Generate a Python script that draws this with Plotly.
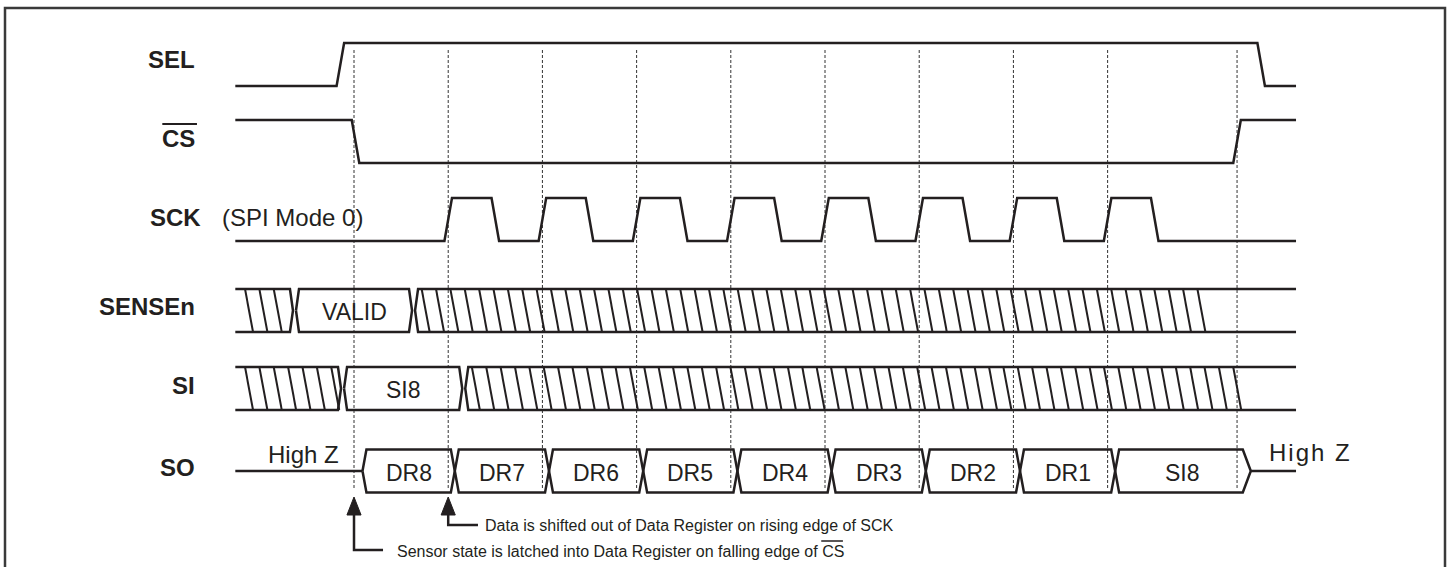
import plotly.graph_objects as go

# ---------------- data (time in SCK periods, t = 0 at the CS falling edge) ----------------
SIGNALS = ["SEL", "CS", "SCK", "SENSEn", "SI", "SO"]
T_START, T_END = -1.26, 10.0
SEL_EDGES = [-0.145, 9.63]          # rise, fall
CS_EDGES = [0.016, 9.374]           # fall, rise
SCK_RISING = [1, 2, 3, 4, 5, 6, 7, 8]
SCK_HIGH_TIME = 0.5
GUIDE_TIMES = [0, 1, 2, 3, 4, 5, 6, 7, 8, 9.374]
SENSEN_VALID = [-0.632, 0.632]
SENSEN_HATCH_END = 9.055
SENSEN_LABEL = "VALID"
SI_VALID = [-0.122, 1.165]
SI_HATCH_END = 9.51
SI_LABEL = "SI8"
SO_BOUNDS = [0.09, 1.07, 2.07, 3.07, 4.07, 5.07, 6.07, 7.07, 8.08, 9.52]
SO_LABELS = ["DR8", "DR7", "DR6", "DR5", "DR4", "DR3", "DR2", "DR1", "SI8"]
HIGHZ_TEXT = "High Z"
SCK_NOTE = "(SPI Mode 0)"
NOTE_LATCH = "Sensor state is latched into Data Register on falling edge of CS"
NOTE_SHIFT = "Data is shifted out of Data Register on rising edge of SCK"

# ---------------- layout constants ----------------
W, H = 1449, 567
X0, X1 = -3.758, 11.624            # time range covering the page width
ROW_Y = [64.5, 141.5, 219.5, 310.5, 388.5, 471]
HALF = 21.5
TR = 0.08                           # edge transition width
INK = "#231f20"
FONT = "Liberation Sans, Arial, sans-serif"

fig = go.Figure()

def add_line(xs, ys, width=2.5, color=INK, dash=None):
    fig.add_trace(go.Scatter(x=xs, y=ys, mode="lines", hoverinfo="skip", showlegend=False,
                             line=dict(color=color, width=width, dash=dash)))

def hi(r): return ROW_Y[r] - HALF
def lo(r): return ROW_Y[r] + HALF

# guide lines (dotted)
gx, gy = [], []
for t in GUIDE_TIMES:
    gx += [t, t, None]; gy += [50, 488, None]
add_line(gx, gy, width=1, color="#333333", dash="3px,2px")

# SEL
r = 0
add_line([T_START, SEL_EDGES[0] - TR / 2, SEL_EDGES[0] + TR / 2, SEL_EDGES[1] - TR / 2, SEL_EDGES[1] + TR / 2, T_END],
         [lo(r), lo(r), hi(r), hi(r), lo(r), lo(r)])
# CS
r = 1
add_line([T_START, CS_EDGES[0] - TR / 2, CS_EDGES[0] + TR / 2, CS_EDGES[1] - TR / 2, CS_EDGES[1] + TR / 2, T_END],
         [hi(r), hi(r), lo(r), lo(r), hi(r), hi(r)])
# SCK
r = 2
xs, ys = [T_START], [lo(r)]
for k in SCK_RISING:
    xs += [k - TR / 2, k + TR / 2, k + SCK_HIGH_TIME - TR / 2, k + SCK_HIGH_TIME + TR / 2]
    ys += [lo(r), hi(r), hi(r), lo(r)]
xs.append(T_END); ys.append(lo(r))
add_line(xs, ys)

GAP = 0.016
TAPER = 0.032
STEP = 0.1525
SLANT = 0.085
PAD_START = 0.103
PAD_AFTER = 0.07

def hatch(r, start, end):
    xs, ys = [], []
    t = start
    while t + SLANT <= end + 0.01:
        xs += [t, t + SLANT, None]; ys += [hi(r), lo(r), None]
        t += STEP
    add_line(xs, ys, width=2)

def bus_row(r, valid, hatch_end, label):
    a, b = valid
    p1 = a - GAP
    add_line([T_START, p1 - TAPER, p1, p1 - TAPER, T_START],
             [hi(r), hi(r), ROW_Y[r], lo(r), lo(r)])
    hatch(r, T_START + PAD_START, p1)
    pa, pb = a + GAP, b - GAP
    add_line([pa, pa + TAPER, pb - TAPER, pb, pb - TAPER, pa + TAPER, pa],
             [ROW_Y[r], hi(r), hi(r), ROW_Y[r], lo(r), lo(r), ROW_Y[r]])
    fig.add_annotation(x=(a + b) / 2, y=ROW_Y[r] + 1, text=label, showarrow=False,
                       font=dict(family=FONT, size=23, color=INK), xanchor="center", yanchor="middle")
    p2 = b + GAP
    add_line([T_END, p2 + TAPER, p2, p2 + TAPER, T_END],
             [hi(r), hi(r), ROW_Y[r], lo(r), lo(r)])
    hatch(r, p2 + PAD_AFTER, hatch_end)

bus_row(3, SENSEN_VALID, SENSEN_HATCH_END, SENSEN_LABEL)
bus_row(4, SI_VALID, SI_HATCH_END, SI_LABEL)

# SO
r = 5
add_line([T_START, SO_BOUNDS[0]], [ROW_Y[r], ROW_Y[r]])
add_line([SO_BOUNDS[-1], T_END], [ROW_Y[r], ROW_Y[r]])
for i, lab in enumerate(SO_LABELS):
    a, b = SO_BOUNDS[i], SO_BOUNDS[i + 1]
    dl = 0.042
    dr = 0.085 if i == len(SO_LABELS) - 1 else 0.042
    add_line([a, a + dl, b - dr, b, b - dr, a + dl, a],
             [ROW_Y[r], hi(r), hi(r), ROW_Y[r], lo(r), lo(r), ROW_Y[r]])
    fig.add_annotation(x=(a + b) / 2, y=ROW_Y[r] + 2, text=lab, showarrow=False,
                       font=dict(family=FONT, size=23, color=INK), xanchor="center", yanchor="middle")

# High Z labels
fig.add_annotation(x=-0.531, y=454, text=HIGHZ_TEXT, showarrow=False,
                   font=dict(family=FONT, size=24, color=INK), xanchor="center", yanchor="middle")
fig.add_annotation(x=10.14, y=452, text="\u200a".join(list(HIGHZ_TEXT)), showarrow=False,
                   font=dict(family=FONT, size=24, color=INK), xanchor="center", yanchor="middle")

# signal names (right-aligned)
label_y = [58.5, 137, 216, 305, 384.5, 466.5]
label_right = [-1.667, -1.667, -1.60, -1.667, -1.667, -1.667]
for name, y, xr in zip(SIGNALS, label_y, label_right):
    fig.add_annotation(x=xr, y=y + 1, text="<b>%s</b>" % name, showarrow=False,
                       font=dict(family=FONT, size=24, color=INK), xanchor="right", yanchor="middle")
add_line([-2.035, -1.667], [124, 124], width=2)   # overline for CS
fig.add_annotation(x=-1.425, y=217, text=SCK_NOTE, showarrow=False,
                   font=dict(family=FONT, size=24, color=INK), xanchor="left", yanchor="middle")

# arrows / notes
def arrow(t, shaft_y, end_t):
    add_line([t, t, end_t], [512, shaft_y, shaft_y], width=2.5)
    fig.add_trace(go.Scatter(x=[t - 0.075, t, t + 0.075, t - 0.075], y=[515, 497, 515, 515],
                             mode="lines", fill="toself", fillcolor=INK, line=dict(color=INK, width=1),
                             hoverinfo="skip", showlegend=False))

arrow(GUIDE_TIMES[0], 550, 0.308)
arrow(GUIDE_TIMES[1], 525, 1.316)
fig.add_annotation(x=0.43, y=551, text=NOTE_LATCH, showarrow=False,
                   font=dict(family=FONT, size=16, color=INK), xanchor="left", yanchor="middle")
fig.add_annotation(x=1.365, y=525, text=NOTE_SHIFT, showarrow=False,
                   font=dict(family=FONT, size=16, color=INK), xanchor="left", yanchor="middle")
add_line([4.96, 5.19], [541, 541], width=1.5)

# border frame
fig.add_shape(type="rect", xref="paper", yref="paper",
              x0=5 / W, x1=1445 / W, y0=-0.05, y1=1 - 8 / H,
              line=dict(color="#3a3a3a", width=2.5), fillcolor="rgba(0,0,0,0)")

fig.update_layout(
    width=W, height=H, margin=dict(l=0, r=0, t=0, b=0),
    paper_bgcolor="white", plot_bgcolor="white",
    xaxis=dict(range=[X0, X1], visible=False, fixedrange=True),
    yaxis=dict(range=[H, 0], visible=False, fixedrange=True),
    showlegend=False,
)
fig.write_html("out.html", config={"displayModeBar": False, "staticPlot": True},
               post_script="document.body.style.margin='0';document.body.style.overflow='hidden';")
